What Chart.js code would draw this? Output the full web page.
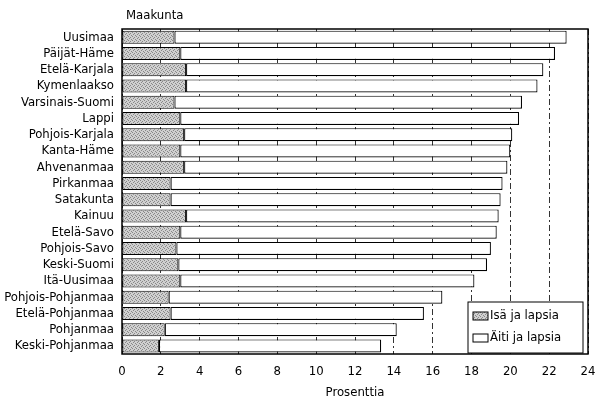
<!DOCTYPE html>
<html>
<head>
<meta charset="utf-8">
<script src="https://cdn.jsdelivr.net/npm/chart.js@4.4.0/dist/chart.umd.min.js"></script>
<style>
  html, body { margin: 0; padding: 0; background: #fff; }
  #wrap { width: 595px; height: 404px; }
</style>
</head>
<body>
<div id="wrap"><canvas id="myChart" width="595" height="404"></canvas></div>
<script>
// Regions, top to bottom
var regions = ["Uusimaa", "Päijät-Häme", "Etelä-Karjala", "Kymenlaakso", "Varsinais-Suomi", "Lappi",
  "Pohjois-Karjala", "Kanta-Häme", "Ahvenanmaa", "Pirkanmaa", "Satakunta", "Kainuu", "Etelä-Savo",
  "Pohjois-Savo", "Keski-Suomi", "Itä-Uusimaa", "Pohjois-Pohjanmaa", "Etelä-Pohjanmaa", "Pohjanmaa",
  "Keski-Pohjanmaa"];
// Father with children (%)
var isa = [2.7, 3.0, 3.3, 3.3, 2.7, 3.0, 3.2, 3.0, 3.2, 2.5, 2.5, 3.3, 3.0, 2.8, 2.9, 3.0, 2.4, 2.5, 2.2, 1.9];
// Mother with children (%)
var aiti = [20.2, 19.3, 18.4, 18.1, 17.9, 17.45, 16.9, 17.0, 16.65, 17.1, 17.0, 16.1, 16.3, 16.2, 15.9, 15.15, 14.1, 13.05, 11.95, 11.45];
var xTicks = [0, 2, 4, 6, 8, 10, 12, 14, 16, 18, 20, 22, 24];

var FONT = "'Liberation Sans Narrow', 'DejaVu Sans Condensed', sans-serif";

document.addEventListener("DOMContentLoaded", function() {
  var ctx = document.getElementById("myChart").getContext("2d");

  // stippled grey fill for the father bars
  var pc = document.createElement("canvas");
  pc.width = 4; pc.height = 4;
  var g = pc.getContext("2d");
  g.fillStyle = "#d0d0d0"; g.fillRect(0, 0, 4, 4);
  g.fillStyle = "#888";
  g.fillRect(0, 0, 1, 1); g.fillRect(2, 1, 1, 1); g.fillRect(1, 2, 1, 1); g.fillRect(3, 3, 1, 1);
  var stipple = ctx.createPattern(pc, "repeat");

  var framePlugin = {
    id: "frame",
    afterDatasetsDraw: function(chart) {
      var a = chart.chartArea, c = chart.ctx;
      c.save();
      c.strokeStyle = "#000";
      c.lineWidth = 1.5;
      c.strokeRect(a.left, a.top, a.right - a.left, a.bottom - a.top);
      c.restore();
    },
    afterDraw: function(chart) {
      var a = chart.chartArea, c = chart.ctx;
      c.save();
      // axis caption on top
      c.fillStyle = "#000";
      c.font = "13px " + FONT;
      c.textBaseline = "middle";
      c.textAlign = "left";
      c.fillText("Maakunta", a.left + 4, 16);

      // legend box inside the plot, lower right
      var w = 115, h = 51;
      var x0 = a.right - w - 5, y0 = a.bottom - h - 1;
      c.fillStyle = "#fff";
      c.fillRect(x0, y0, w, h);
      c.strokeStyle = "#000";
      c.lineWidth = 1;
      c.strokeRect(x0, y0, w, h);
      var ds = chart.data.datasets;
      for (var i = 0; i < ds.length; i++) {
        var cy = y0 + 14 + i * 22;
        c.fillStyle = ds[i].backgroundColor;
        c.fillRect(x0 + 5, cy - 4, 15, 8);
        c.strokeStyle = "#000";
        c.strokeRect(x0 + 5, cy - 4, 15, 8);
        c.fillStyle = "#000";
        c.font = "13px " + FONT;
        c.fillText(ds[i].label, x0 + 22, cy);
      }
      c.restore();
    }
  };

  new Chart(ctx, {
    type: "bar",
    data: {
      labels: regions,
      datasets: [
        {
          label: "Isä ja lapsia",
          data: isa,
          backgroundColor: stipple,
          borderColor: "#000",
          borderWidth: 1,
          borderSkipped: false,
          barPercentage: 0.8,
          categoryPercentage: 1.0
        },
        {
          label: "Äiti ja lapsia",
          data: aiti,
          backgroundColor: "#fff",
          borderColor: "#000",
          borderWidth: 1.2,
          borderSkipped: false,
          barPercentage: 0.8,
          categoryPercentage: 1.0
        }
      ]
    },
    options: {
      indexAxis: "y",
      responsive: false,
      animation: false,
      layout: { padding: { top: 29, right: 0, left: 0, bottom: 0 } },
      plugins: {
        legend: { display: false },
        tooltip: { enabled: false }
      },
      scales: {
        x: {
          stacked: true,
          min: 0,
          max: 24,
          afterBuildTicks: function(scale) {
            scale.ticks = xTicks.map(function(v) { return { value: v }; });
          },
          afterFit: function(scale) {
            scale.height = 50;
            scale.paddingLeft = 0;
            scale.paddingRight = 7;
          },
          grid: { color: "#333", lineWidth: 1, drawTicks: false },
          border: { display: false, dash: [6, 3, 2, 3] },
          ticks: { color: "#000", padding: 10, font: { family: FONT, size: 13 } },
          title: {
            display: true,
            text: "Prosenttia",
            color: "#000",
            padding: { top: 6 },
            font: { family: FONT, size: 13 }
          }
        },
        y: {
          stacked: true,
          afterFit: function(scale) { scale.width = 122; },
          grid: { display: false, drawTicks: false },
          border: { display: false },
          ticks: { color: "#000", padding: 8, autoSkip: false, font: { family: FONT, size: 13 } }
        }
      }
    },
    plugins: [framePlugin]
  });
});
</script>
</body>
</html>
